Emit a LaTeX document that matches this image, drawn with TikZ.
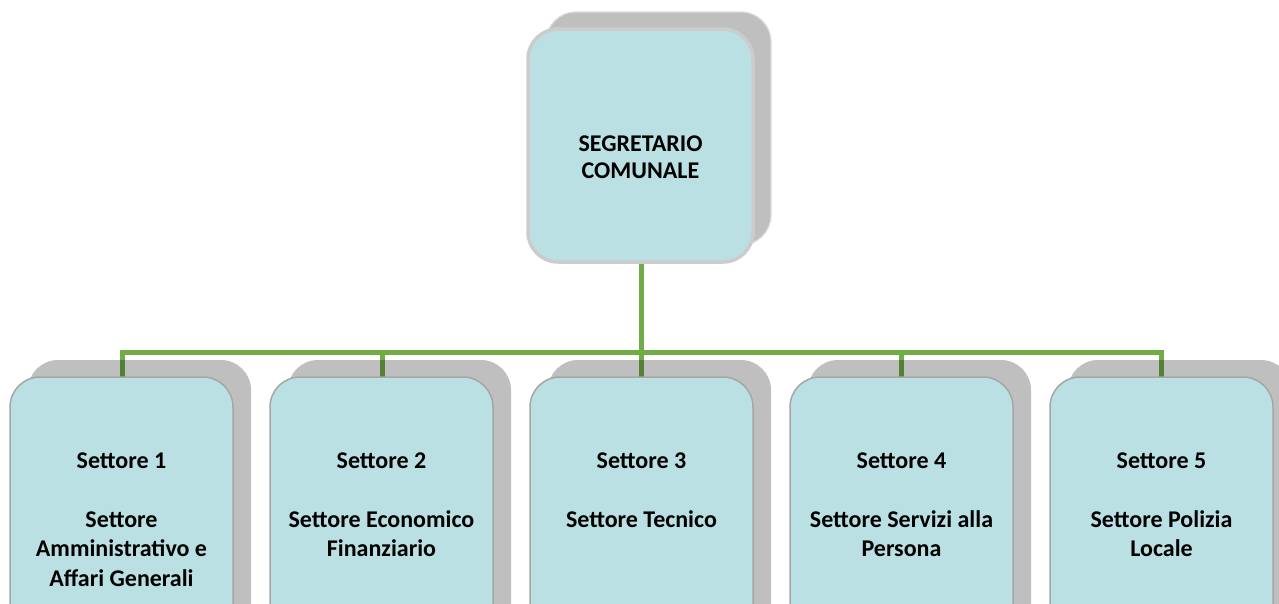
\documentclass[tikz,border=0pt]{standalone}
\usepackage{fontspec}
\setmainfont{Carlito}
\definecolor{boxfill}{HTML}{BBE0E3}
\definecolor{linegreen}{HTML}{70AD47}
\definecolor{bordertop}{HTML}{CCCCCC}
\definecolor{borderbot}{HTML}{A6A6A6}
\tikzset{
  conn/.style={draw=linegreen, line width=5pt},
  shadowbox/.style={fill=black, fill opacity=0.25, draw=none, rounded corners=30pt},
  topbox/.style={fill=boxfill, draw=bordertop, line width=3.5pt, rounded corners=30pt},
  botbox/.style={fill=boxfill, draw=borderbot, line width=1.5pt, rounded corners=30pt},
  lbl/.style={font=\bfseries\fontsize{24}{29.5}\selectfont, align=center, inner sep=0pt, anchor=north},
}
\begin{document}
\begin{tikzpicture}[x=1pt,y=-1pt]
\useasboundingbox (0,0) rectangle (1279,603);
\clip (0,0) rectangle (1279,603);
% connectors (drawn first, shadows lie over them)
\coordinate (top) at (641,262);
\coordinate (bus) at (641,352);
\foreach \i/\x in {1/122,2/382,3/641,4/901,5/1161} {
  \coordinate (t\i) at (\x,377);
}
\draw[conn] (top) -- (bus);
\foreach \i in {1,...,5} { \draw[conn] (bus) -| (t\i); }
% top box
\draw[shadowbox] (546,12) rectangle (771,245);
\draw[draw=bordertop!70!white, line width=1.2pt, rounded corners=30pt] (546,12) rectangle (771,245);
\draw[topbox] (528,29) rectangle (753,262);
\node[lbl, font=\bfseries\fontsize{24}{27}\selectfont] (segr) at (640.5,136) {SEGRETARIO\\COMUNALE};
% bottom boxes
\foreach \i/\x in {1/10,2/270,3/530,4/790,5/1050} {
  \draw[shadowbox] (\x+18,360) rectangle (\x+241,640);
  \draw[botbox] (\x,377) rectangle (\x+223,657);
}
\node[lbl] (s1) at (121.5,452.5) {Settore 1\\[29.5pt]Settore\\Amministrativo e\\Affari Generali};
\node[lbl] (s2) at (381.5,452.5) {Settore 2\\[29.5pt]Settore Economico\\Finanziario};
\node[lbl] (s3) at (641.5,452.5) {Settore 3\\[29.5pt]Settore Tecnico};
\node[lbl] (s4) at (901.5,452.5) {Settore 4\\[29.5pt]Settore Servizi alla\\Persona};
\node[lbl] (s5) at (1161.5,452.5) {Settore 5\\[29.5pt]Settore Polizia\\Locale};
\end{tikzpicture}
\end{document}
